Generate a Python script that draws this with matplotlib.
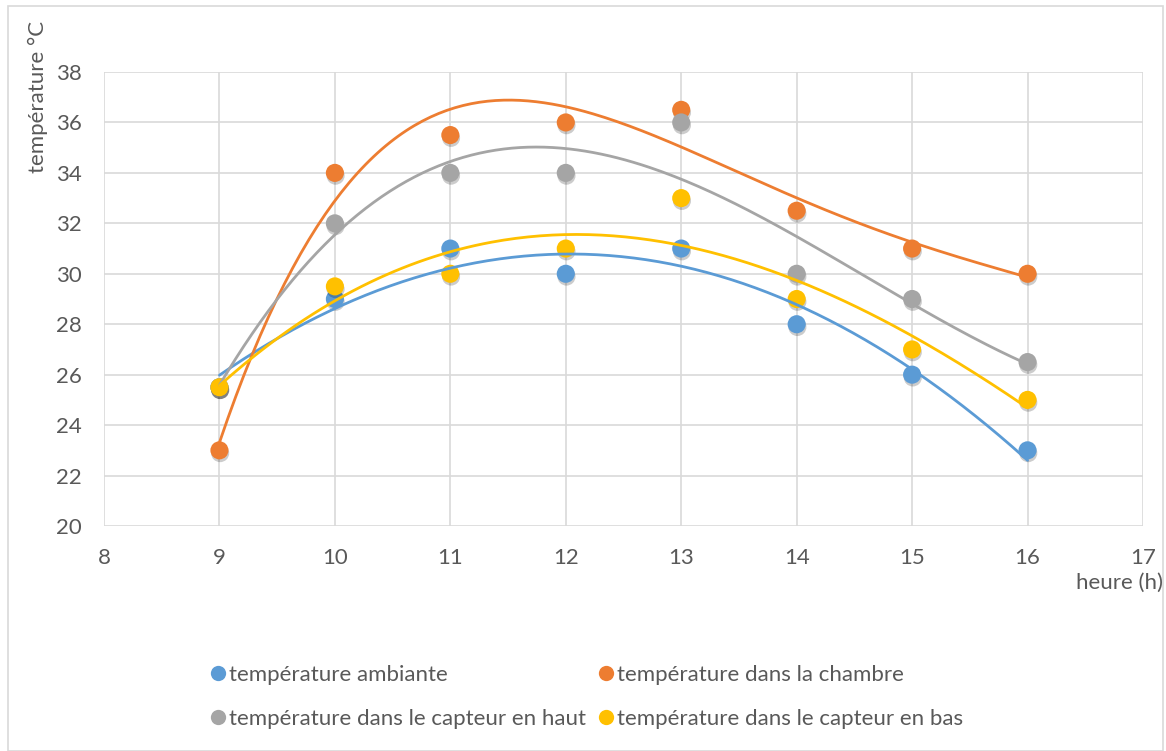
import matplotlib
matplotlib.use("Agg")
import matplotlib.pyplot as plt
import matplotlib.patheffects as pe
from matplotlib.patches import Rectangle
from matplotlib.lines import Line2D
import numpy as np

plt.rcParams['font.family'] = ['Lato', 'DejaVu Sans']

# DATA
heures = [9, 10, 11, 12, 13, 14, 15, 16]
t_ambiante = [25.5, 29, 31, 30, 31, 28, 26, 23]
t_chambre = [23, 34, 35.5, 36, 36.5, 32.5, 31, 30]
t_haut = [25.5, 32, 34, 34, 36, 30, 29, 26.5]
t_bas = [25.5, 29.5, 30, 31, 33, 29, 27, 25]

# name, values, colour, order of the polynomial trendline
series = [("température ambiante", t_ambiante, "#5B9BD5", 2),
          ("température dans la chambre", t_chambre, "#ED7D31", 4),
          ("température dans le capteur en haut", t_haut, "#A5A5A5", 3),
          ("température dans le capteur en bas", t_bas, "#FFC000", 3)]

text_col = "#595959"
grid_col = "#D9D9D9"
fs = 16

fig = plt.figure(figsize=(11.66, 7.51), dpi=100)
ax = fig.add_axes([104/1166, 1-526/751, (1143-104)/1166, (526-72)/751])

shadow = [pe.SimplePatchShadow(offset=(0.5, -2), shadow_rgbFace="k", alpha=0.2), pe.Normal()]

x = np.array(heures)
xs = np.linspace(9, 16, 200)
for i, (name, vals, col, deg) in enumerate(series):
    ax.scatter(x, vals, s=170, color=col, zorder=3 + i, path_effects=shadow, linewidths=0)
for i, (name, vals, col, deg) in enumerate(series):
    coef = np.polyfit(x, vals, deg)
    ax.plot(xs, np.polyval(coef, xs), color=col, lw=2, zorder=10 + i, solid_capstyle="round")

ax.set_xlim(8, 17)
ax.set_ylim(20, 38)
ax.set_xticks(range(8, 18))
ax.set_yticks(range(20, 39, 2))
ax.grid(True, color=grid_col, lw=1.2)
ax.set_axisbelow(True)
for s in ax.spines.values():
    s.set_visible(False)
ax.tick_params(length=0, labelsize=fs, labelcolor=text_col, pad=16)

fig.text(38/1166, 1-21/751, "température °C", rotation=90, ha="center", va="top",
         fontsize=fs, color=text_col)
fig.text(1163/1166, 1-583/751, "heure (h)", ha="right", va="center",
         fontsize=fs, color=text_col)

handles = [Line2D([], [], ls="", marker="o", markersize=11, color=c, markeredgewidth=0)
           for _, _, c, _ in series]
labels = [n for n, _, _, _ in series]
# order so rows read: ambiante | chambre, haut | bas
order = [0, 2, 1, 3]
leg = fig.legend([handles[k] for k in order], [labels[k] for k in order],
                 ncol=2, loc="center", bbox_to_anchor=(585/1166, 1-697/751),
                 frameon=False, fontsize=fs, handletextpad=0.0, columnspacing=0.36,
                 handlelength=1.0, labelspacing=1.1)
for t in leg.get_texts():
    t.set_color(text_col)

fig.patches.append(Rectangle((8/1166, 0), 1155/1166, 1-6/751, transform=fig.transFigure,
                             fill=False, edgecolor=grid_col, lw=1.2))

fig.savefig("out.png", dpi=100)
plt.close()
